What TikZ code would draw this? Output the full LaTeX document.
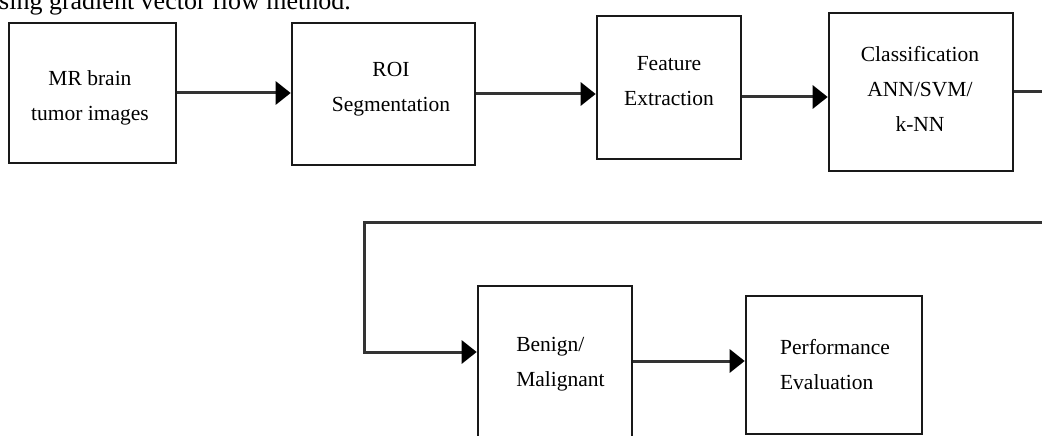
\documentclass[tikz,border=0pt]{standalone}
\usepackage{fontspec}
\setmainfont{Liberation Serif}
\usetikzlibrary{arrows.meta,calc}
\begin{document}
\begin{tikzpicture}[x=1pt,y=-1pt,
  box/.style={draw=black!90,line width=2.6pt,rectangle,inner sep=0pt},
  lbl/.style={font=\fontsize{21.5}{35}\selectfont,inner sep=0pt,text=black},
  conn/.style={draw=black!80,line width=3pt},
  arr/.style={conn,-{Triangle[length=15pt,width=23pt,black]}}]
\useasboundingbox (0,0) rectangle (1042,436);
\clip (0,0) rectangle (1042,436);
\fill[white] (0,0) rectangle (1042,436);
% caption fragment at the top
\node[anchor=base west,inner sep=0pt,font=\fontsize{26}{30}\selectfont] (cap) at (-1,9.5) {sing gradient vector flow method.};
% boxes
\node[box,minimum width=167pt,minimum height=140pt] (b1) at (92.5,93) {};
\node[box,minimum width=183pt,minimum height=142pt] (b2) at (383.5,94) {};
\node[box,minimum width=144pt,minimum height=143pt] (b3) at (669,87.5) {};
\node[box,minimum width=184pt,minimum height=158pt] (b4) at (921,92) {};
\node[box,minimum width=154pt,minimum height=164pt] (b5) at (555,368) {};
\node[box,minimum width=176pt,minimum height=138pt] (b6) at (834,365) {};
% labels
\node[lbl,align=center] (t1) at (90,98) {MR brain\\tumor images};
\node[lbl,align=center] (t2) at (391,89) {ROI\\Segmentation};
\node[lbl,align=center] (t3) at (669,81) {Feature\\Extraction};
\node[lbl,align=center] (t4) at (920,89) {Classification\\ANN/SVM/\\k-NN};
\node[lbl,align=left] (t5) at (560.5,364) {Benign/\\Malignant};
\node[lbl,align=left] (t6) at (835,365) {Performance\\Evaluation};
% connectors
\coordinate (out) at (1060,93);
\coordinate (back) at (1060,222);
\coordinate (turn) at (364,222);
\draw[arr] (b1.east) -- (b1.east -| b2.west);
\draw[arr] (b2.east) -- (b2.east -| b3.west);
\draw[arr] ([yshift=-9.5pt]b3.east) -- ([yshift=-9.5pt]b3.east -| b4.west);
\draw[conn] (b4.east) -- (b4.east -| out);
\draw[arr] (back) -- (turn) |- ([yshift=16pt]b5.west);
\draw[arr] ([yshift=4pt]b6.west -| b5.east) -- ([yshift=4pt]b6.west);
\end{tikzpicture}
\end{document}
